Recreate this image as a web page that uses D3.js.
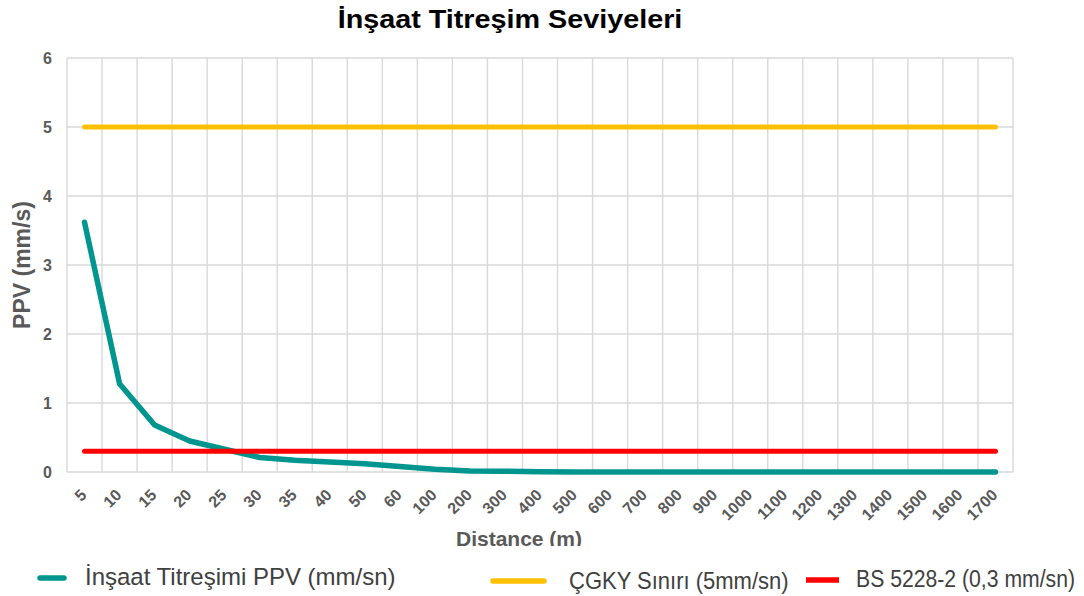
<!DOCTYPE html>
<html>
<head>
<meta charset="utf-8">
<script src="https://cdn.jsdelivr.net/npm/d3@7"></script>
<style>
  html, body { margin: 0; padding: 0; background: #fff; }
  svg { display: block; font-family: "Liberation Sans", Arial, sans-serif; }
</style>
</head>
<body>
<svg id="chart" width="1084" height="596"></svg>
<script>
// Distance categories (m) and measured / limit PPV values (mm/s)
const distances = ["5","10","15","20","25","30","35","40","50","60","100","200","300","400","500","600","700","800","900","1000","1100","1200","1300","1400","1500","1600","1700"];
const ppvValues = [3.62, 1.28, 0.68, 0.45, 0.33, 0.21, 0.17, 0.145, 0.12, 0.08, 0.04, 0.015, 0.01, 0.005, 0, 0, 0, 0, 0, 0, 0, 0, 0, 0, 0, 0, 0];
const cgkyLimit = 5;
const bsLimit = 0.3;
const yTicks = [0, 1, 2, 3, 4, 5, 6];

const seriesNames = ["İnşaat Titreşimi PPV (mm/sn)", "ÇGKY Sınırı (5mm/sn)", "BS 5228-2 (0,3 mm/sn)"];
const colors = ["#00968F", "#FFC000", "#FF0000"];

const svg = d3.select("#chart");
const plot = { left: 67, right: 1013, top: 58, bottom: 472 };

const x = d3.scaleBand().domain(distances).range([plot.left, plot.right]).padding(0);
const xc = d => x(d) + x.bandwidth() / 2;
const y = d3.scaleLinear().domain([0, 6]).range([plot.bottom, plot.top]);

const grey = "#595959";
const gridColor = "#D9D9D9";
const fontFamily = "Liberation Sans, Arial, sans-serif";

// horizontal grid
svg.append("g")
  .selectAll("line")
  .data(yTicks)
  .join("line")
  .attr("x1", plot.left).attr("x2", plot.right)
  .attr("y1", d => y(d)).attr("y2", d => y(d))
  .attr("stroke", gridColor).attr("stroke-width", 1.4);

// vertical grid at category boundaries
const boundaries = distances.map(d => x(d)).concat([plot.right]);
svg.append("g")
  .selectAll("line")
  .data(boundaries)
  .join("line")
  .attr("x1", d => d).attr("x2", d => d)
  .attr("y1", plot.top).attr("y2", plot.bottom)
  .attr("stroke", gridColor).attr("stroke-width", 1.4);

// y tick labels
const yAxis = d3.axisLeft(y).tickValues(yTicks).tickSize(0).tickPadding(0).tickFormat(d3.format("d"));
const gy = svg.append("g").attr("transform", `translate(52,0)`).call(yAxis);
gy.select(".domain").remove();
gy.attr("font-size", null).attr("font-family", null);
gy.selectAll("text")
  .attr("fill", grey).attr("font-size", 16).attr("font-weight", "bold")
  .attr("font-family", fontFamily)
  .attr("dy", "0.36em");

// x tick labels, rotated
const xAxis = d3.axisBottom(x).tickSize(0).tickPadding(0);
const gx = svg.append("g").attr("transform", `translate(0,${plot.bottom})`).call(xAxis);
gx.select(".domain").remove();
gx.attr("font-size", null).attr("font-family", null);
gx.selectAll("text")
  .attr("fill", grey).attr("font-size", 16).attr("font-weight", "bold")
  .attr("font-family", fontFamily)
  .attr("text-anchor", "end")
  .attr("dy", null).attr("y", 0)
  .attr("transform", "translate(3,24) rotate(-45)");

// axis titles
svg.append("text")
  .attr("x", 519).attr("y", 546)
  .attr("text-anchor", "middle")
  .attr("font-size", 21).attr("font-weight", "bold").attr("fill", grey)
  .text("Distance (m)");

svg.append("text")
  .attr("transform", "translate(30,265) rotate(-90)")
  .attr("text-anchor", "middle")
  .attr("font-size", 23).attr("font-weight", "bold").attr("fill", grey)
  .text("PPV (mm/s)");

// title
svg.append("text")
  .attr("transform", "translate(510,28) scale(1.15,1)")
  .attr("text-anchor", "middle")
  .attr("font-size", 25).attr("font-weight", "bold").attr("fill", "#000")
  .text("İnşaat Titreşim Seviyeleri");

// series lines
const line = d3.line().x(d => xc(d.k)).y(d => y(d.v));
const seriesData = [
  distances.map((k, i) => ({ k, v: ppvValues[i] })),
  distances.map(k => ({ k, v: cgkyLimit })),
  distances.map(k => ({ k, v: bsLimit }))
];
// limit lines drawn around the measured curve; red sits on top where they cross
const order = [1, 0, 2];
order.forEach(i => {
  svg.append("path")
    .datum(seriesData[i])
    .attr("d", line)
    .attr("fill", "none")
    .attr("stroke", colors[i])
    .attr("stroke-width", i === 0 ? 5.5 : 5)
    .attr("stroke-linecap", "round")
    .attr("stroke-linejoin", "round");
});

// legend band
svg.append("rect").attr("x", 0).attr("y", 546).attr("width", 1084).attr("height", 50).attr("fill", "#fff");

// legend entries: narrower fonts for the two limit entries, stretched to a common height
const legendItems = [
  { x1: 40, x2: 64, yl: 578, tx: 85, ty: 585, fs: 24 },
  { x1: 493, x2: 544, yl: 581, tx: 569, ty: 589, fs: 22 },
  { x1: 806, x2: 839, yl: 580, tx: 856, ty: 587, fs: 21.2 }
];
legendItems.forEach((it, i) => {
  svg.append("line")
    .attr("x1", it.x1).attr("x2", it.x2).attr("y1", it.yl).attr("y2", it.yl)
    .attr("stroke", colors[i]).attr("stroke-width", 5.5)
    .attr("stroke-linecap", i === 2 ? "butt" : "round");
  svg.append("text")
    .attr("transform", `translate(${it.tx},${it.ty}) scale(1,${(23.5 / it.fs).toFixed(3)})`)
    .attr("font-size", it.fs).attr("fill", "#404040")
    .text(seriesNames[i]);
});
</script>
</body>
</html>
